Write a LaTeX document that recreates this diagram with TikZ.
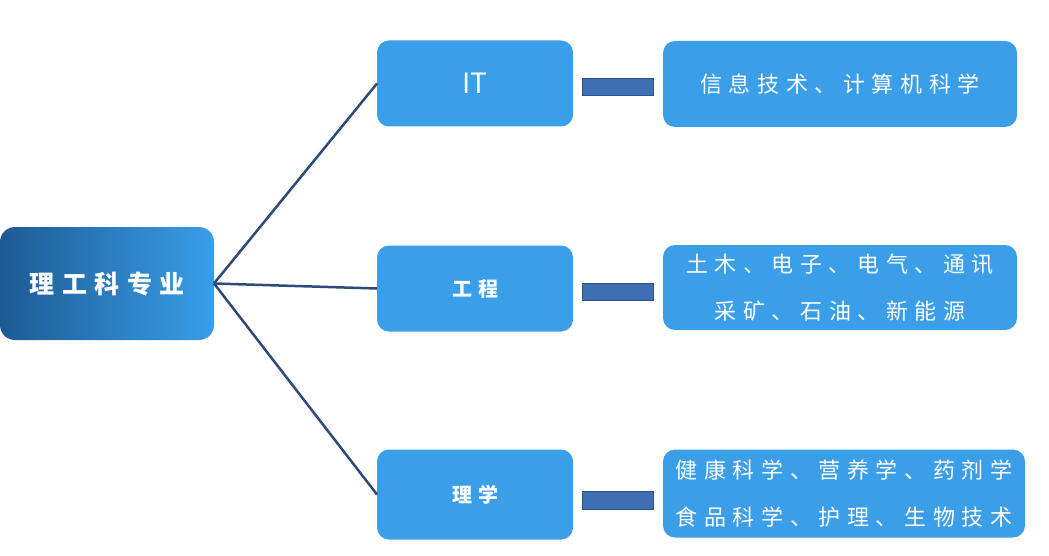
\documentclass[tikz,border=0pt]{standalone}
\usepackage{fontspec}
\newfontfamily\cjk{Noto Sans CJK SC}
\newfontfamily\cjksp[LetterSpace=30]{Noto Sans CJK SC}
\usetikzlibrary{positioning}
\definecolor{boxblue}{HTML}{3A9EE8}
\definecolor{deepblue}{HTML}{1D5A93}
\definecolor{barblue}{HTML}{3E6EB4}
\definecolor{bardraw}{HTML}{2F528F}
\definecolor{linkblue}{HTML}{2E4A7A}

\begin{document}
\begin{tikzpicture}[x=1pt,y=1pt,node distance=10pt,line width=2.5pt]
  \tikzstyle{root} = [rectangle, rounded corners=15pt, minimum width=214pt,
    minimum height=113pt, left color=deepblue, right color=boxblue,
    outer sep=0pt, text=white, font=\cjksp\bfseries\fontsize{25}{28}\selectfont]
  \tikzstyle{branch} = [rectangle, rounded corners=12pt, fill=boxblue,
    minimum width=196pt, minimum height=86pt, outer sep=0pt, text=white]
  \tikzstyle{leaf} = [rectangle, rounded corners=12pt, fill=boxblue,
    minimum width=354pt, minimum height=86pt, outer sep=0pt, text=white,
    align=center, font=\cjksp\fontsize{22}{47}\selectfont]
  \tikzstyle{bar} = [rectangle, fill=barblue, draw=bardraw, line width=1pt,
    minimum width=71pt, minimum height=17pt, inner sep=0pt, outer sep=0pt]
  \tikzstyle{link} = [draw=linkblue, line width=2.5pt]
  \useasboundingbox (0,0) rectangle (1049,-556);
  \node[root] (major) at (107,-283.5) {理工科专业};
  \node[branch] (gc) at (475,-288.5) {\cjksp\bfseries\fontsize{20}{24}\selectfont 工程};
  \node[branch] (it) [above=119pt of gc] {\cjk\fontsize{28}{32}\selectfont IT};
  \node[branch, minimum height=90pt] (lx) [below=118pt of gc] {\cjksp\bfseries\fontsize{20}{24}\selectfont 理学};
  \node[bar] (b1) [right=9pt of it, yshift=-3.5pt] {};
  \node[bar] (b2) [right=9pt of gc, yshift=-3.5pt] {};
  \node[bar, minimum height=18pt] (b3) [right=9pt of lx, yshift=-5.5pt] {};
  \node[leaf] (l1) [right=10pt of b1, yshift=3pt] {信息技术、计算机科学};
  \node[leaf, minimum height=85pt] (l2) [right=10pt of b2, yshift=4.5pt] {土木、电子、电气、通讯\\采矿、石油、新能源};
  \node[leaf, minimum width=362pt, minimum height=88pt] (l3) [right=10pt of b3, yshift=6.5pt] {健康科学、营养学、药剂学\\食品科学、护理、生物技术};
  \draw[link] (major.east) -- (it.west);
  \draw[link] (major.east) -- (gc.west);
  \draw[link] (major.east) -- (lx.west);
\end{tikzpicture}
\end{document}
